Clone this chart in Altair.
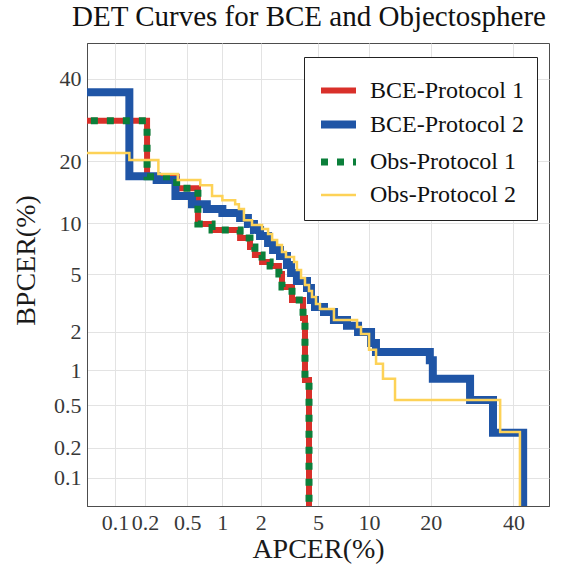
import altair as alt
import pandas as pd
from statistics import NormalDist

nd = NormalDist()

series_names = ["BCE-Protocol 1", "BCE-Protocol 2", "Obs-Protocol 1", "Obs-Protocol 2"]
series_colors = ["#d9302a", "#1f55a6", "#0b7f3a", "#fdd257"]
series_widths = [6, 8, 7, 2.5]
series_dashes = [[1, 0], [1, 0], [7, 9], [1, 0]]

# step curves: (APCER %, BPCER %) corner points, horizontal then vertical
bce1_apcer = [0.01, 0.21, 0.40, 0.62, 0.82, 1.39, 1.66, 1.81, 2.05, 2.35, 2.72, 2.86, 3.36, 3.99, 4.11, 4.37]
bce1_bpcer = [29.0, 17.1, 15.1, 9.92, 9.2, 8.29, 7.36, 6.60, 5.98, 5.65, 5.03, 4.15, 3.39, 2.53, 0.83, 0.01]

bce2_apcer = [0.01, 0.14, 0.26, 0.39, 0.55, 0.74, 1.0, 1.39, 1.60, 1.78, 1.98, 2.27, 2.47, 2.77, 3.10, 3.31,
              3.63, 4.24, 4.50, 4.78, 5.45, 6.28, 7.51, 8.69, 10.25, 10.89, 19.8, 20.4, 28.7, 34.5, 42.7]
bce2_bpcer = [36.3, 17.2, 16.5, 13.85, 12.6, 11.9, 11.35, 10.68, 9.92, 9.2, 8.51, 7.76, 7.07, 6.5, 5.73, 5.11,
              4.54, 4.08, 3.39, 3.03, 2.80, 2.45, 2.22, 2.0, 1.65, 1.405, 1.21, 0.85, 0.56, 0.28, 0.01]

obs1_apcer = [0.01, 0.21, 0.40, 0.62, 0.82, 1.39, 1.66, 1.81, 2.05, 2.35, 2.72, 2.86, 3.36, 3.99, 4.11, 4.37]
obs1_bpcer = [29.0, 17.1, 15.1, 9.92, 9.2, 8.29, 7.36, 6.60, 5.98, 5.65, 5.03, 4.15, 3.39, 2.53, 0.83, 0.01]

obs2_apcer = [0.01, 0.14, 0.27, 0.41, 0.65, 0.82, 1.0, 1.27, 1.36, 1.49, 1.72, 2.05, 2.27, 2.43, 2.64, 2.86,
              3.05, 3.47, 3.63, 3.87, 4.11, 4.37, 4.57, 4.85, 5.14, 6.28, 8.58, 9.03, 10.0, 10.9, 11.85, 13.64,
              36.4, 41.8]
obs2_bpcer = [21.7, 20.3, 17.6, 16.5, 15.6, 13.85, 13.2, 12.6, 11.9, 10.4, 9.8, 9.31, 8.73, 8.08, 7.56, 6.88,
              6.42, 5.98, 5.33, 4.75, 4.27, 3.90, 3.55, 3.18, 2.94, 2.45, 2.18, 1.93, 1.46, 1.13, 0.85, 0.56,
              0.285, 0.01]

tick_values = [0.1, 0.2, 0.5, 1, 2, 5, 10, 20, 40]
tick_labels = ["0.1", "0.2", "0.5", "1", "2", "5", "10", "20", "40"]
axis_range = [0.05, 50]  # percent

curves = {
    "BCE-Protocol 1": (bce1_apcer, bce1_bpcer),
    "BCE-Protocol 2": (bce2_apcer, bce2_bpcer),
    "Obs-Protocol 1": (obs1_apcer, obs1_bpcer),
    "Obs-Protocol 2": (obs2_apcer, obs2_bpcer),
}

rows = []
for name, (xs, ys) in curves.items():
    for i, (a, b) in enumerate(zip(xs, ys)):
        rows.append({"series": name, "i": i, "apcer": a, "bpcer": b,
                     "zx": nd.inv_cdf(a / 100), "zy": nd.inv_cdf(b / 100)})
df = pd.DataFrame(rows)

tick_z = [nd.inv_cdf(t / 100) for t in tick_values]
dom = [nd.inv_cdf(axis_range[0] / 100), nd.inv_cdf(axis_range[1] / 100)]

expr = "''"
for z, lab in reversed(list(zip(tick_z, tick_labels))):
    expr = f"abs(datum.value - ({z:.6f})) < 0.0005 ? '{lab}' : ({expr})"

FONT = "Liberation Serif"

common_axis = dict(
    values=tick_z, labelExpr=expr, grid=True, gridColor="#e3e3e3", gridWidth=1,
    ticks=False, tickSize=0, domainColor="#4d4d4d", labelFont=FONT, labelFontSize=22,
    labelColor="#383838", labelOverlap=False, labelFlush=False, titleFont=FONT,
    titleFontSize=28, titleFontWeight="normal", titleColor="#1a1a1a",
)

x_enc = alt.X("zx:Q", scale=alt.Scale(domain=dom, nice=False, zero=False),
              axis=alt.Axis(title="APCER(%)", labelPadding=6, titleX=231, titleY=43,
                            titleBaseline="middle", titleAlign="center", **common_axis))
y_enc = alt.Y("zy:Q", scale=alt.Scale(domain=dom, nice=False, zero=False),
              axis=alt.Axis(title="BPCER(%)", labelPadding=6, titleX=-61, titleY=217,
                            titleAngle=270, titleBaseline="middle", titleAlign="center",
                            **common_axis))

legend = alt.Legend(title=None, orient="none", legendX=217, legendY=14, symbolType="stroke",
                    symbolSize=1225, labelFont=FONT, labelFontSize=24, labelColor="#111111",
                    strokeColor="#222222", fillColor="white", padding=13, rowPadding=0,
                    labelOffset=10, labelLimit=0)

base = alt.Chart(df).mark_line(interpolate="step-after", clip=True).encode(
    x=x_enc,
    y=y_enc,
    order=alt.Order("i:Q"),
    color=alt.Color("series:N", scale=alt.Scale(domain=series_names, range=series_colors), legend=legend),
    strokeDash=alt.StrokeDash("series:N", scale=alt.Scale(type="ordinal", domain=series_names,
                              range=series_dashes), legend=legend),
    strokeWidth=alt.StrokeWidth("series:N", scale=alt.Scale(type="ordinal", domain=series_names,
                                range=series_widths), legend=legend),
)

layers = [base.transform_filter(alt.datum.series == s) for s in series_names]

chart = alt.layer(*layers).properties(
    width=462, height=463,
    title=alt.TitleParams(text="DET Curves for BCE and Objectosphere", font=FONT, fontSize=29,
                          fontWeight="normal", color="#111111", anchor="middle", dx=-9, dy=28,
                          baseline="alphabetic", offset=16),
    autosize=alt.AutoSizeParams(type="none"),
    padding={"left": 87, "top": 43, "right": 14, "bottom": 59},
).configure_view(
    stroke="#4d4d4d", strokeWidth=1
).configure_axis(
    labelFont=FONT, titleFont=FONT
).configure_legend(
    labelFont=FONT
).configure_title(
    font=FONT
)

chart.save("out.html", embed_options={"renderer": "svg", "actions": False})
